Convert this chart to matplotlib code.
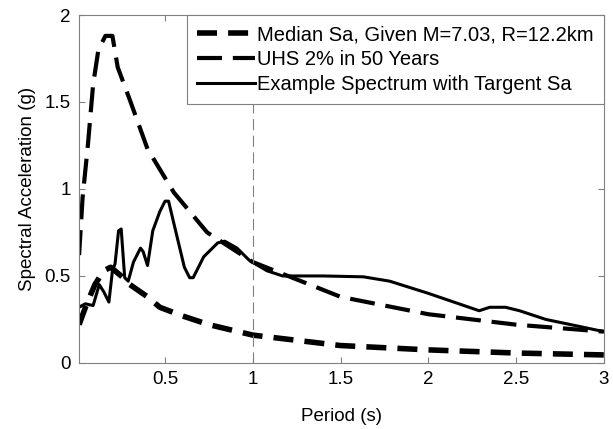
import matplotlib
matplotlib.use("Agg")
import matplotlib.pyplot as plt

plt.rcParams['font.family'] = ['Liberation Sans', 'DejaVu Sans']

# median Sa, given M=7.03, R=12.2km
t_med = [0.01, 0.05, 0.1, 0.15, 0.19, 0.25, 0.3, 0.4, 0.47, 0.6, 0.75, 1.0, 1.5, 2.0, 2.5, 3.0]
sa_med = [0.22, 0.33, 0.45, 0.53, 0.55, 0.50, 0.45, 0.38, 0.32, 0.27, 0.22, 0.16, 0.10, 0.075, 0.057, 0.046]

# UHS 2% in 50 years
t_uhs = [0.01, 0.03, 0.06, 0.09, 0.12, 0.16, 0.2, 0.23, 0.3, 0.4, 0.55, 0.74, 1.0, 1.5, 2.0, 2.5, 3.0]
sa_uhs = [0.62, 0.95, 1.25, 1.6, 1.8, 1.88, 1.88, 1.70, 1.51, 1.23, 0.98, 0.75, 0.58, 0.38, 0.28, 0.22, 0.18]

# example spectrum
t_ex = [0.01, 0.045, 0.09, 0.125, 0.15, 0.18, 0.2, 0.215, 0.235, 0.25, 0.27, 0.29, 0.32, 0.36,
        0.375, 0.40, 0.43, 0.47, 0.50, 0.52, 0.56, 0.61, 0.64, 0.66, 0.72, 0.80, 0.84, 0.91,
        0.98, 1.08, 1.17, 1.4, 1.63, 1.78, 2.0, 2.29, 2.35, 2.44, 2.52, 2.67, 2.86, 3.0]
sa_ex = [0.32, 0.34, 0.33, 0.45, 0.41, 0.35, 0.53, 0.57, 0.76, 0.77, 0.49, 0.47, 0.58, 0.66,
         0.64, 0.56, 0.76, 0.87, 0.93, 0.93, 0.76, 0.55, 0.49, 0.49, 0.61, 0.69, 0.70, 0.66,
         0.59, 0.53, 0.50, 0.50, 0.495, 0.47, 0.40, 0.30, 0.32, 0.32, 0.30, 0.25, 0.21, 0.18]

fig = plt.figure(figsize=(6.13, 4.29), dpi=100)
ax = fig.add_axes([0.129, 0.154, 0.856, 0.811])

ax.plot(t_med, sa_med, color='k', lw=4, dashes=(3.6, 2),
        label='Median Sa, Given M=7.03, R=12.2km')
ax.plot(t_uhs, sa_uhs, color='k', lw=3, dashes=(6, 2.6),
        label='UHS 2% in 50 Years')
ax.plot(t_ex, sa_ex, color='k', lw=2.2, label='Example Spectrum with Targent Sa')
ax.axvline(1.0, color='#808080', lw=0.8, dashes=(10, 5))

ax.set_xlim(0.01, 3)
ax.set_ylim(0, 2)
ax.set_xticks([0.5, 1, 1.5, 2, 2.5, 3])
ax.set_xticklabels(['0.5', '1', '1.5', '2', '2.5', '3'])
ax.set_yticks([0, 0.5, 1, 1.5, 2])
ax.set_yticklabels(['0', '0.5', '1', '1.5', '2'])
ax.tick_params(direction='in', top=True, right=True, labelsize=13.5, length=4,
               color='#808080', pad=6)
for s in ax.spines.values():
    s.set_color('#808080')
ax.set_xlabel('Period (s)', fontsize=13.5, labelpad=14)
ax.set_ylabel('Spectral Acceleration (g)', fontsize=13.5, labelpad=6)

leg = ax.legend(loc='upper right', fontsize=14.5, handlelength=2.9, handletextpad=0.1,
                labelspacing=0.3, borderpad=0.5, borderaxespad=0, fancybox=False,
                framealpha=1, edgecolor='#808080')
leg.get_frame().set_linewidth(0.8)

fig.savefig('out.png', dpi=100)
